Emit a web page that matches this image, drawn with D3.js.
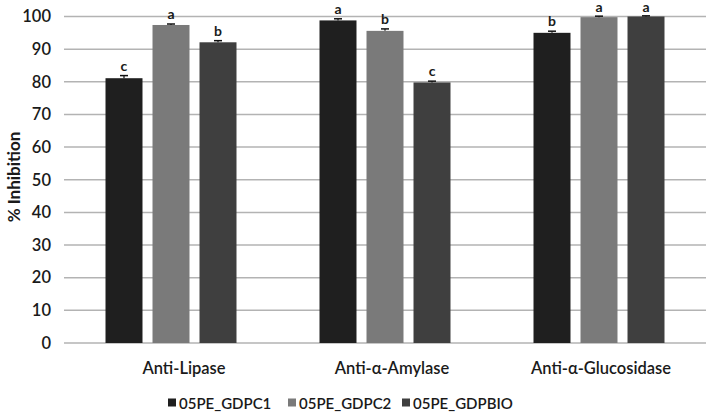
<!DOCTYPE html>
<html><head><meta charset="utf-8">
<script src="https://cdn.jsdelivr.net/npm/d3@7"></script>
<style>body{margin:0;background:#fff}svg{display:block}</style>
</head><body><div id="chart"></div>
<script>
const categories = ["Anti-Lipase", "Anti-\u03B1-Amylase", "Anti-\u03B1-Glucosidase"];
const seriesNames = ["05PE_GDPC1", "05PE_GDPC2", "05PE_GDPBIO"];
const seriesColors = ["#1f1f1f", "#7a7a7a", "#3f3f3f"];
const gdpc1 = [81.1, 98.8, 95.0];
const gdpc2 = [97.4, 95.6, 99.8];
const gdpbio = [92.1, 79.8, 100.0];
const err1 = [0.8, 0.5, 0.5];
const err2 = [0.3, 0.6, 0.3];
const errBio = [0.5, 0.4, 0.2];
const let1 = ["c", "a", "b"];
const let2 = ["a", "b", "a"];
const letBio = ["b", "c", "a"];
const yTicks = [0,10,20,30,40,50,60,70,80,90,100];

const values = [gdpc1, gdpc2, gdpbio];
const errors = [err1, err2, errBio];
const letters = [let1, let2, letBio];

const W = 709, H = 412;
const svg = d3.select("#chart").append("svg").attr("width", W).attr("height", H);
const mL = 64, mR = 706, mT = 16.5, mB = 343;
const font = "Lato, 'Open Sans', sans-serif";

const y = d3.scaleLinear().domain([0, 100]).range([mB, mT]);
const x0 = d3.scaleBand().domain(categories).range([mL, mR]).paddingInner(0).paddingOuter(0);
const x1 = d3.scaleBand().domain(seriesNames).range([0, x0.bandwidth()]).paddingInner(0.213).paddingOuter(0.883);

// gridlines
svg.append("g").selectAll("line").data(yTicks).join("line")
  .attr("x1", mL).attr("x2", mR)
  .attr("y1", d => y(d)).attr("y2", d => y(d))
  .attr("stroke", "#b3b3b3").attr("stroke-width", 1.5);

// y axis labels
const yAxis = d3.axisLeft(y).tickValues(yTicks).tickSize(0).tickPadding(13);
const ga = svg.append("g").attr("transform", `translate(${mL},0)`).call(yAxis);
ga.select(".domain").remove();
ga.selectAll("text").attr("font-family", font).attr("font-size", 16.5).attr("font-weight", 600).attr("fill", "#1a1a1a");

// y title
svg.append("text").attr("transform", `translate(20,177) rotate(-90)`)
  .attr("text-anchor", "middle").attr("font-family", font).attr("font-size", 17).attr("font-weight", 700)
  .attr("fill", "#1a1a1a").text("% Inhibition");

// bars
const groups = svg.append("g").selectAll("g").data(categories).join("g")
  .attr("transform", d => `translate(${x0(d)},0)`);
const recs = (c, ci) => seriesNames.map((s, si) => ({s, si, v: values[si][ci], e: errors[si][ci], l: letters[si][ci]}));
groups.each(function(c, ci) {
  const g = d3.select(this);
  const data = recs(c, ci);
  g.selectAll("rect").data(data).join("rect")
    .attr("x", d => x1(d.s)).attr("width", x1.bandwidth())
    .attr("y", d => y(d.v)).attr("height", d => y(0) - y(d.v))
    .attr("fill", d => seriesColors[d.si]);
  g.selectAll("line.err").data(data).join("line").attr("class","err")
    .attr("x1", d => x1(d.s) + x1.bandwidth()/2).attr("x2", d => x1(d.s) + x1.bandwidth()/2)
    .attr("y1", d => y(d.v)).attr("y2", d => y(d.v + d.e))
    .attr("stroke", "#111").attr("stroke-width", 1.2);
  g.selectAll("line.cap").data(data).join("line").attr("class","cap")
    .attr("x1", d => x1(d.s) + x1.bandwidth()/2 - 4).attr("x2", d => x1(d.s) + x1.bandwidth()/2 + 4)
    .attr("y1", d => y(d.v + d.e)).attr("y2", d => y(d.v + d.e))
    .attr("stroke", "#111").attr("stroke-width", 1.5);
  g.selectAll("text.let").data(data).join("text").attr("class","let")
    .attr("x", d => x1(d.s) + x1.bandwidth()/2).attr("y", d => Math.max(y(d.v + d.e) - 5, 11.5))
    .attr("text-anchor", "middle").attr("font-family", font).attr("font-size", 14).attr("font-weight", 700)
    .attr("fill", "#1a1a1a").text(d => d.l);
});

// category labels
const labelOffset = [13, 7, 2];
svg.append("g").selectAll("text").data(categories).join("text")
  .attr("x", (d, i) => x0(d) + x0.bandwidth()/2 + labelOffset[i]).attr("y", 374)
  .attr("text-anchor", "middle").attr("font-family", font).attr("font-size", 16.5).attr("font-weight", 600)
  .attr("fill", "#1a1a1a").text(d => d);

// legend
const legX = [168, 288, 402];
const leg = svg.append("g").selectAll("g").data(seriesNames).join("g")
  .attr("transform", (d, i) => `translate(${legX[i]},403)`);
leg.append("rect").attr("x", 0).attr("y", -4.5).attr("width", 8).attr("height", 8)
  .attr("fill", (d, i) => seriesColors[i]);
leg.append("text").attr("x", 11).attr("y", 5.5).attr("font-family", font).attr("font-size", 15).attr("font-weight", 600)
  .attr("fill", "#1a1a1a").text(d => d);
</script></body></html>
